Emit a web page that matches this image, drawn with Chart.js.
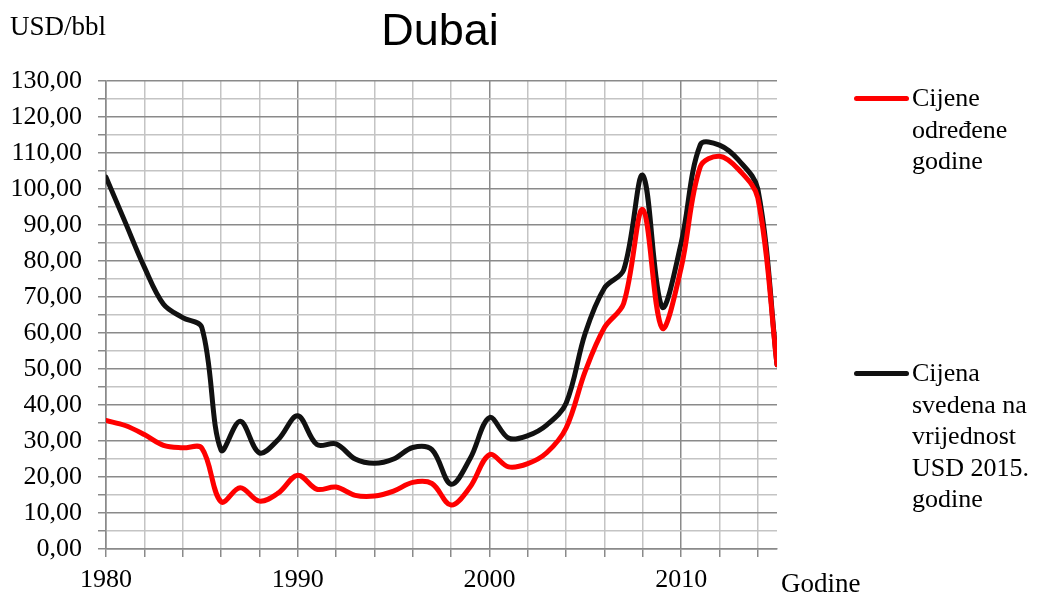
<!DOCTYPE html>
<html>
<head>
<meta charset="utf-8">
<script src="https://cdn.jsdelivr.net/npm/chart.js@4.4.0/dist/chart.umd.min.js"></script>
<style>
  body { margin: 0; background: #fff; }
  #wrap { position: relative; width: 1038px; height: 598px; overflow: hidden; }
  .txt { position: absolute; font-family: "Liberation Serif", "Times New Roman", serif; color: #000; white-space: nowrap; }
  .serif26 { font-size: 26px; line-height: 31.5px; }
  .swatch { position: absolute; height: 5px; border-radius: 3px; }
</style>
</head>
<body>
<div id="wrap">
  <canvas id="dubaiChart" width="1038" height="598"></canvas>
  <div class="txt" style="left:10px; top:13px; font-size:27px; line-height:27px;">USD/bbl</div>
  <div class="txt" style="left:340px; top:7px; width:200px; text-align:center; font-family:'Liberation Sans', Arial, sans-serif; font-size:45px; line-height:45px;">Dubai</div>
  <div class="txt" style="left:781px; top:570px; font-size:27px; line-height:27px;">Godine</div>

  <div class="swatch" style="left:854px; top:96px; width:55px; background:#ff0000;"></div>
  <div class="txt serif26" style="left:912px; top:82px;">Cijene<br>određene<br>godine</div>

  <div class="swatch" style="left:854px; top:371px; width:55px; background:#111111;"></div>
  <div class="txt serif26" style="left:912px; top:357px;">Cijena<br>svedena na<br>vrijednost<br>USD 2015.<br>godine</div>
</div>

<script>
// ---------------- DATA ----------------
const years = [
  1980, 1981, 1982, 1983, 1984, 1985, 1986, 1987, 1988, 1989,
  1990, 1991, 1992, 1993, 1994, 1995, 1996, 1997, 1998, 1999,
  2000, 2001, 2002, 2003, 2004, 2005, 2006, 2007, 2008, 2009,
  2010, 2011, 2012, 2013, 2014, 2015
];

// prices of the given year (USD/bbl)
const nominalPrices = [
  35.7, 34.3, 31.8, 28.8, 28.1, 28.0, 13.1, 17.0, 13.3, 15.6,
  20.5, 16.6, 17.2, 14.9, 14.7, 16.1, 18.5, 18.2, 12.2, 17.3,
  26.2, 22.8, 23.7, 26.8, 33.6, 49.4, 61.5, 68.2, 94.3, 61.4,
  78.1, 106.2, 109.1, 105.4, 97.5, 51.2
];

// prices in USD of 2015
const realPrices = [
  103.3, 90.8, 78.3, 68.0, 64.3, 61.5, 27.5, 35.5, 26.7, 30.5,
  37.0, 29.0, 29.2, 25.0, 23.8, 25.0, 28.2, 27.6, 18.0, 25.2,
  36.5, 30.8, 31.5, 34.5, 40.5, 60.0, 72.5, 77.5, 103.8, 67.3,
  85.0, 112.3, 112.2, 108.0, 100.0, 51.2
];

const seriesLabels = ["Cijene određene godine", "Cijena svedena na vrijednost USD 2015. godine"];

// ---------------- CHART ----------------
const lightGrid = "#c4c4c4";
const darkGrid = "#8a8a8a";
const tickFont = { family: "'Liberation Serif', 'Times New Roman', serif", size: 26 };

function toPoints(vals) {
  return years.map((y, i) => ({ x: y, y: vals[i] }));
}

const ctx = document.getElementById("dubaiChart");

new Chart(ctx, {
  type: "line",
  data: {
    datasets: [
      {
        label: seriesLabels[0],
        data: toPoints(nominalPrices),
        borderColor: "#ff0000",
        borderWidth: 5,
        pointRadius: 0,
        tension: 0.35,
        borderCapStyle: "round",
        borderJoinStyle: "round"
      },
      {
        label: seriesLabels[1],
        data: toPoints(realPrices),
        borderColor: "#111111",
        borderWidth: 5,
        pointRadius: 0,
        tension: 0.35,
        borderCapStyle: "round",
        borderJoinStyle: "round"
      }
    ]
  },
  options: {
    responsive: false,
    animation: false,
    layout: { padding: { top: 81, right: 261, bottom: 0, left: 0 } },
    plugins: {
      legend: { display: false },
      title: { display: false },
      tooltip: { enabled: false }
    },
    scales: {
      x: {
        type: "linear",
        min: 1980,
        max: 2015,
        afterFit: s => { s.height = 49; },
        border: { color: darkGrid, width: 1.5 },
        grid: {
          color: c => (c.tick && c.tick.value % 10 === 0 ? darkGrid : lightGrid),
          tickColor: darkGrid,
          lineWidth: 1.5,
          tickLength: 8
        },
        ticks: {
          stepSize: 2,
          includeBounds: false,
          autoSkip: false,
          maxRotation: 0,
          padding: 8,
          color: "#000",
          font: tickFont,
          callback: v => (v % 10 === 0 ? String(v) : "")
        }
      },
      y: {
        min: 0,
        max: 130,
        afterFit: s => { s.width = 106; },
        border: { color: darkGrid, width: 1.5 },
        grid: {
          color: c => (c.tick && c.tick.value % 10 === 0 ? darkGrid : lightGrid),
          tickColor: darkGrid,
          lineWidth: 1.5,
          tickLength: 8
        },
        ticks: {
          stepSize: 5,
          autoSkip: false,
          padding: 16,
          color: "#000",
          font: tickFont,
          callback: v => (v % 10 === 0 ? v.toFixed(2).replace(".", ",") : "")
        }
      }
    }
  }
});
</script>
</body>
</html>
